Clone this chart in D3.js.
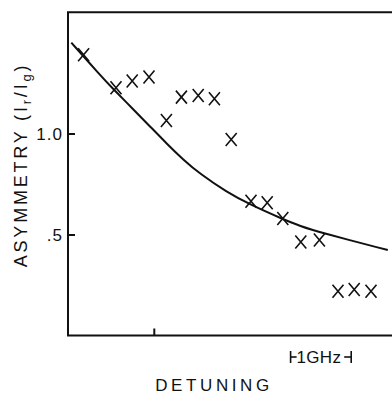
<!DOCTYPE html>
<html lang="en">
<head>
<meta charset="utf-8">
<title>Asymmetry vs detuning</title>
<script src="https://d3js.org/d3.v7.min.js"></script>
<style>
  body { margin: 0; background: #fff; }
  text { font-family: "Liberation Sans", Arial, sans-serif; fill: #111; }
</style>
</head>
<body>
<svg width="392" height="394"></svg>
<script>
// measured points (detuning in GHz, asymmetry Ir/Ig)
const pointX = [0.26, 0.80, 1.07, 1.35, 1.64, 1.89, 2.17, 2.44, 2.72, 3.05, 3.32, 3.58, 3.88, 4.19, 4.50, 4.77, 5.05];
const pointY = [1.39, 1.226, 1.26, 1.28, 1.064, 1.18, 1.188, 1.172, 0.97, 0.665, 0.657, 0.579, 0.463, 0.473, 0.219, 0.228, 0.219];

// theory curve
const curveX = [0.055, 0.533, 0.77, 1.088, 1.367, 1.645, 1.922, 2.2, 2.645, 3.033, 3.588, 3.867, 4.2, 5.33];
const curveY = [1.45, 1.29, 1.215, 1.12, 1.035, 0.95, 0.87, 0.80, 0.71, 0.648, 0.575, 0.542, 0.51, 0.423];

const yTicks = [1.0, 0.5];
const yTickLabels = ["1.0", ".5"];
const xTicks = [1.43];
const scaleBar = [3.71, 4.72]; // 1 GHz

const svg = d3.select("svg");
const margin = { left: 68, top: 12.3, right: 0, bottom: 58.5 };
const width = +svg.attr("width");
const height = +svg.attr("height");

const x = d3.scaleLinear().domain([0, 5.4]).range([margin.left, width - margin.right]);
const y = d3.scaleLinear().domain([0, 1.6]).range([height - margin.bottom, margin.top]);

// frame (right side runs off the page)
svg.append("path")
    .attr("d", `M${x(5.5)},${y(1.6)} H${x(0)} V${y(0)} H${x(5.5)}`)
    .attr("fill", "none")
    .attr("stroke", "#111")
    .attr("stroke-width", 2);

// y axis ticks
const yAxis = d3.axisRight(y).tickValues(yTicks).tickSize(7).tickFormat("");
svg.append("g")
    .attr("transform", `translate(${x(0)},0)`)
    .call(yAxis)
    .call(g => g.select(".domain").remove())
    .call(g => g.selectAll("line").attr("stroke", "#111").attr("stroke-width", 2));

svg.append("g").selectAll("text")
    .data(yTicks)
    .join("text")
    .attr("x", x(0) - 5)
    .attr("y", d => y(d))
    .attr("dy", "0.36em")
    .attr("text-anchor", "end")
    .attr("font-size", 17)
    .attr("letter-spacing", 1)
    .text((d, i) => yTickLabels[i]);

// x axis tick
const xAxis = d3.axisTop(x).tickValues(xTicks).tickSize(7).tickFormat("");
svg.append("g")
    .attr("transform", `translate(0,${y(0)})`)
    .call(xAxis)
    .call(g => g.select(".domain").remove())
    .call(g => g.selectAll("line").attr("stroke", "#111").attr("stroke-width", 2));

// curve
const curveData = curveX.map((d, i) => [d, curveY[i]]);
svg.append("path")
    .datum(curveData)
    .attr("fill", "none")
    .attr("stroke", "#111")
    .attr("stroke-width", 2)
    .attr("d", d3.line().x(d => x(d[0])).y(d => y(d[1])).curve(d3.curveBasis));

// crosses
const r = 5.5;
svg.append("g").selectAll("path")
    .data(pointX.map((d, i) => [d, pointY[i]]))
    .join("path")
    .attr("d", d => {
        const cx = x(d[0]), cy = y(d[1]);
        return `M${cx - r},${cy - r - 1}L${cx + r},${cy + r + 1}M${cx + r},${cy - r - 1}L${cx - r},${cy + r + 1}`;
    })
    .attr("stroke", "#111")
    .attr("stroke-width", 1.6)
    .attr("fill", "none");

// 1 GHz scale bar
const barY = 357;
const bar = svg.append("g").attr("stroke", "#111").attr("stroke-width", 1.6);
bar.append("line").attr("x1", x(scaleBar[0])).attr("x2", x(scaleBar[0])).attr("y1", barY - 6).attr("y2", barY + 6);
bar.append("line").attr("x1", x(scaleBar[0])).attr("x2", x(scaleBar[0]) + 6).attr("y1", barY).attr("y2", barY);
bar.append("line").attr("x1", x(scaleBar[1])).attr("x2", x(scaleBar[1])).attr("y1", barY - 6).attr("y2", barY + 6);
bar.append("line").attr("x1", x(scaleBar[1]) - 7).attr("x2", x(scaleBar[1])).attr("y1", barY).attr("y2", barY);
svg.append("text")
    .attr("x", (x(scaleBar[0]) + x(scaleBar[1])) / 2 - 2)
    .attr("y", barY + 6)
    .attr("text-anchor", "middle")
    .attr("font-size", 17)
    .attr("letter-spacing", 0.3)
    .text("1GHz");

// axis titles
svg.append("text")
    .attr("x", 214)
    .attr("y", 391)
    .attr("text-anchor", "middle")
    .attr("font-size", 17)
    .attr("letter-spacing", 3.6)
    .text("DETUNING");

const yt = svg.append("text")
    .attr("transform", "translate(27,165) rotate(-90)")
    .attr("text-anchor", "middle")
    .attr("font-size", 18)
    .attr("letter-spacing", 2.8);
yt.append("tspan").text("ASYMMETRY (I");
yt.append("tspan").attr("font-size", 13).attr("dy", 4).text("r");
yt.append("tspan").attr("dy", -4).text("/I");
yt.append("tspan").attr("font-size", 13).attr("dy", 4).text("g");
yt.append("tspan").attr("dy", -4).text(")");
</script>
</body>
</html>
